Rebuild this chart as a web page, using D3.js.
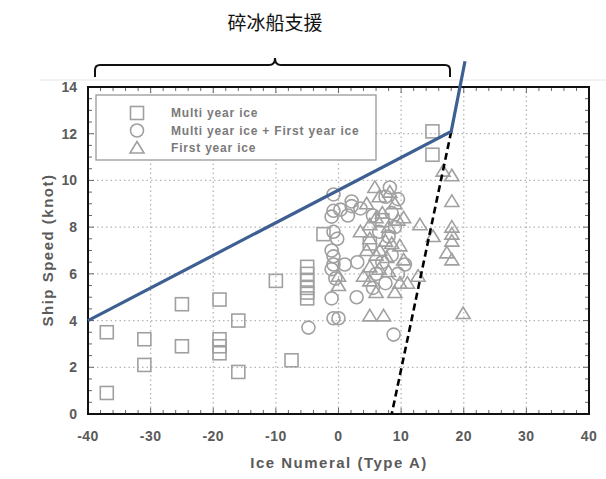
<!DOCTYPE html>
<html>
<head>
<meta charset="utf-8">
<script src="https://cdn.jsdelivr.net/npm/d3@7"></script>
<style>
  body { margin: 0; background: #fff; }
  text { font-family: Arial, "Liberation Sans", sans-serif; }
</style>
</head>
<body>
<div id="chart"></div>
<script>
(function() {
  var width = 606, height = 479;

  // data
  var xTicks = [-40, -30, -20, -10, 0, 10, 20, 30, 40];
  var yTicks = [0, 2, 4, 6, 8, 10, 12, 14];
  var legendLabels = ['Multi year ice', 'Multi year ice + First year ice', 'First year ice'];

  var multiYear = [
    [-37, 3.5], [-37, 0.9], [-31, 3.2], [-31, 2.1], [-25, 4.7], [-25, 2.9],
    [-19, 4.9], [-19, 3.2], [-19, 2.9], [-19, 2.6], [-16, 4.0], [-16, 1.8],
    [-10, 5.7], [-7.5, 2.3], [-5, 6.3], [-5, 6.0], [-5, 5.7], [-5, 5.4],
    [-5, 5.2], [-5, 4.95], [-2.4, 7.7], [5, 7.3], [7, 8.3], [15, 12.1], [15, 11.1]
  ];
  var mixedIce = [
    [-4.8, 3.7], [-1.1, 4.95], [-0.8, 4.1], [0, 4.1], [-0.8, 6.4], [1, 6.4],
    [-1.1, 6.2], [-1.1, 7.0], [-0.8, 6.75], [-0.8, 7.8], [-0.2, 7.5], [-1.1, 8.45],
    [-0.8, 8.7], [0.3, 8.75], [2.1, 9.1], [2.1, 8.9], [-0.8, 9.4], [2.9, 5.0],
    [8.8, 3.4], [10.6, 6.4], [8.2, 9.7], [8.5, 8.6], [1.5, 8.5], [3.5, 8.8],
    [5.5, 8.5], [7.5, 9.3], [9.5, 9.2], [6.5, 7.8], [8.0, 7.6], [9.0, 8.0],
    [7.0, 6.5], [8.5, 6.8], [6.0, 6.0], [7.5, 5.6], [9.5, 6.0], [5.5, 5.4],
    [3.0, 6.5], [-0.5, 5.8]
  ];
  var firstYear = [
    [5.8, 9.7], [9, 9], [10.4, 8.4], [13, 8.1], [15.1, 7.6], [5, 8.1], [5, 7.5],
    [6.6, 7], [7.7, 6.7], [9.8, 7.2], [10.4, 6.6], [4, 5.9], [5, 5.7], [9.8, 5.6],
    [12.7, 5.9], [0, 5.9], [0, 5.5], [5, 4.2], [7.2, 4.2], [16.7, 10.4], [18.1, 10.2],
    [18.1, 9.1], [18.1, 8.0], [18.1, 7.7], [18.1, 7.4], [17.3, 6.9], [18.1, 6.6],
    [19.9, 4.3], [6.5, 9.3], [8.2, 9.5], [4.5, 9.0], [7.0, 8.6], [9.5, 8.3],
    [6.0, 8.4], [8.0, 8.0], [4.5, 7.0], [6.0, 6.8], [8.5, 7.3], [5.0, 6.3],
    [6.5, 6.2], [8.0, 6.1], [9.0, 5.2], [11.0, 5.6], [6.0, 5.2], [3.5, 7.8], [7.5, 7.4]
  ];
  var limitLine = [[-40, 4], [18, 12.1], [20.2, 15.1]];
  var dashLine = [[18, 12.1], [8.5, 0]];

  var left = 88, right = 589, top = 87, bottom = 414;
  var x = d3.scaleLinear().domain([-40, 40]).range([left, right]);
  var y = d3.scaleLinear().domain([0, 14]).range([bottom, top]);

  var svg = d3.select('#chart').append('svg')
    .attr('width', width).attr('height', height);
  svg.append('rect').attr('width', width).attr('height', height).attr('fill', '#fff');

  // faint border of the pasted picture
  svg.append('line').attr('x1', 40).attr('x2', width).attr('y1', 80).attr('y2', 80)
    .attr('stroke', '#e6e6e6').attr('stroke-width', 1);

  // title + bracket
  svg.append('text').attr('x', 275).attr('y', 30).attr('text-anchor', 'middle')
    .style('font-family', '"Noto Sans CJK SC", sans-serif').style('font-size', '19px')
    .attr('fill', '#111').text('碎冰船支援');
  svg.append('path')
    .attr('d', 'M95,77 L95,70 Q95,65 100,65 L269,65 Q275,65 275,58 Q275,65 281,65 L445,65 Q450,65 450,70 L450,77')
    .attr('fill', 'none').attr('stroke', '#111').attr('stroke-width', 2);

  // grid
  var grid = svg.append('g');
  grid.selectAll('.gx').data(xTicks.slice(1, -1)).enter().append('line')
    .attr('x1', x).attr('x2', x).attr('y1', top).attr('y2', bottom)
    .attr('stroke', '#b5b5b5').attr('stroke-width', 1.3).attr('stroke-dasharray', '1.5,3');
  grid.selectAll('.gy').data(yTicks.slice(1, -1)).enter().append('line')
    .attr('x1', left).attr('x2', right).attr('y1', y).attr('y2', y)
    .attr('stroke', '#b5b5b5').attr('stroke-width', 1.3).attr('stroke-dasharray', '1.5,3');

  // minor ticks inside the frame
  var ticks = svg.append('g').attr('stroke', '#666').attr('stroke-width', 1);
  var xm = d3.range(-40, 40.1, 2), ym = d3.range(0, 14.01, 0.5);
  ticks.selectAll('.tb').data(xm).enter().append('line')
    .attr('x1', x).attr('x2', x).attr('y1', bottom).attr('y2', function(d) { return bottom - (d % 10 === 0 ? 6 : 4); });
  ticks.selectAll('.tt').data(xm).enter().append('line')
    .attr('x1', x).attr('x2', x).attr('y1', top).attr('y2', function(d) { return top + (d % 10 === 0 ? 6 : 4); });
  ticks.selectAll('.tl').data(ym).enter().append('line')
    .attr('y1', y).attr('y2', y).attr('x1', left).attr('x2', function(d) { return left + (d % 2 === 0 ? 6 : 4); });
  ticks.selectAll('.tr').data(ym).enter().append('line')
    .attr('y1', y).attr('y2', y).attr('x1', right).attr('x2', function(d) { return right - (d % 2 === 0 ? 6 : 4); });

  // legend
  var lg = svg.append('g');
  lg.append('rect').attr('x', 96).attr('y', 95).attr('width', 280).attr('height', 65)
    .attr('fill', '#fff').attr('stroke', '#999').attr('stroke-width', 1.3);

  var mk = '#a0a0a0';
  function square(g, cx, cy) {
    g.append('rect').attr('x', cx - 6.5).attr('y', cy - 6.5).attr('width', 13).attr('height', 13)
      .attr('fill', 'none').attr('stroke', mk).attr('stroke-width', 1.6);
  }
  function circle(g, cx, cy) {
    g.append('circle').attr('cx', cx).attr('cy', cy).attr('r', 6.5)
      .attr('fill', 'none').attr('stroke', mk).attr('stroke-width', 1.6);
  }
  function triangle(g, cx, cy) {
    g.append('path').attr('d', 'M' + cx + ',' + (cy - 6.5) + ' L' + (cx + 7) + ',' + (cy + 5) + ' L' + (cx - 7) + ',' + (cy + 5) + ' Z')
      .attr('fill', 'none').attr('stroke', mk).attr('stroke-width', 1.6);
  }
  var shapes = [square, circle, triangle];
  legendLabels.forEach(function(t, i) {
    var cy = 113 + i * 17.5;
    shapes[i](lg, 137, cy);
    lg.append('text').attr('x', 171).attr('y', cy + 4).text(t)
      .attr('fill', '#7a7a7a').style('font-size', '12px').style('font-weight', 'bold')
      .style('letter-spacing', '0.8px');
  });

  // points
  var pts = svg.append('g');
  multiYear.forEach(function(d) { square(pts, x(d[0]), y(d[1])); });
  mixedIce.forEach(function(d) { circle(pts, x(d[0]), y(d[1])); });
  firstYear.forEach(function(d) { triangle(pts, x(d[0]), y(d[1])); });

  // frame
  svg.append('rect').attr('x', left).attr('y', top).attr('width', right - left).attr('height', bottom - top)
    .attr('fill', 'none').attr('stroke', '#111').attr('stroke-width', 2);

  // lines
  var line = d3.line().x(function(d) { return x(d[0]); }).y(function(d) { return y(d[1]); });
  svg.append('path').datum(dashLine).attr('d', line)
    .attr('fill', 'none').attr('stroke', '#000').attr('stroke-width', 2.6).attr('stroke-dasharray', '7,4');
  svg.append('path').datum(limitLine).attr('d', line)
    .attr('fill', 'none').attr('stroke', '#3d5f92').attr('stroke-width', 3.2);

  // tick labels
  var lab = '#5a5a5a';
  svg.selectAll('.xl').data(xTicks).enter().append('text')
    .attr('x', x).attr('y', 441).attr('text-anchor', 'middle').text(function(d) { return d; })
    .attr('fill', lab).style('font-size', '14px').style('font-weight', 'bold').style('letter-spacing', '0.5px');
  svg.selectAll('.yl').data(yTicks).enter().append('text')
    .attr('x', 77).attr('y', function(d) { return y(d) + 5; }).attr('text-anchor', 'end').text(function(d) { return d; })
    .attr('fill', lab).style('font-size', '14px').style('font-weight', 'bold');

  svg.append('text').attr('x', 339).attr('y', 468).attr('text-anchor', 'middle')
    .text('Ice Numeral (Type A)').attr('fill', lab).style('font-size', '15px').style('font-weight', 'bold')
    .style('letter-spacing', '1.5px');
  svg.append('text').attr('transform', 'translate(53,250) rotate(-90)').attr('text-anchor', 'middle')
    .text('Ship Speed (knot)').attr('fill', lab).style('font-size', '15px').style('font-weight', 'bold')
    .style('letter-spacing', '1.5px');
})();
</script>
</body>
</html>
